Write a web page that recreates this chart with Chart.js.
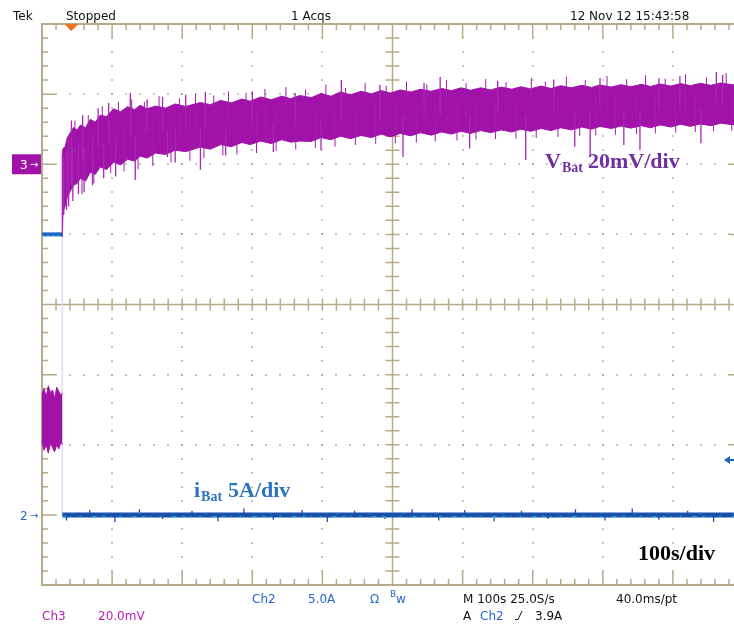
<!DOCTYPE html>
<html>
<head>
<meta charset="utf-8">
<script src="https://cdn.jsdelivr.net/npm/chart.js@4"></script>
<style>
html, body { margin: 0; padding: 0; background: #fff; overflow: hidden; }
#scope { display: block; }
</style>
</head>
<body>
<canvas id="scope" width="760" height="633"></canvas>
<script>
// x = time in s (100 s/div), VBat in mV (ch3, 20 mV/div, ref +2 div), iBat in A (ch2, 5 A/div, ref -3 div)
const envTime = [29, 30, 33, 36, 40, 45, 50, 55, 62, 69, 76, 83, 92, 102, 112, 122, 132, 140, 150, 162,
  176, 190, 205, 226, 240, 255, 270, 285, 297, 312, 327, 342, 355, 368, 384, 398, 412, 426, 440, 455,
  470, 484, 497, 511, 526, 540, 555, 570, 584, 598, 611, 626, 640, 655, 670, 683, 697, 712, 726, 740,
  755, 770, 784, 796, 812, 826, 840, 855, 868, 882, 897, 911, 925, 939, 954, 968, 988, 1000];
const vbatUpper = [3.0, 4.5, 5.0, 7.5, 8.9, 10.5, 9.8, 11.2, 10.4, 12.8, 12.0, 14.0, 13.6, 15.8, 15.0, 16.4, 15.6, 16.8, 15.8, 16.6,
  16.0, 17.2, 16.5, 17.6, 17.0, 18.2, 17.5, 18.6, 18.0, 19.2, 18.4, 19.4, 18.7, 19.6, 19.0, 20.2, 19.4, 20.6, 19.8, 20.8,
  20.1, 21.0, 20.3, 21.2, 20.6, 21.4, 20.8, 21.6, 21.0, 21.8, 21.1, 21.8, 21.2, 22.0, 21.4, 22.1, 21.5, 22.3, 21.6, 22.4,
  21.8, 22.5, 21.9, 22.6, 22.0, 22.7, 22.1, 22.8, 22.2, 22.9, 22.3, 23.0, 22.4, 23.1, 22.5, 23.2, 22.6, 23.0];
const vbatLower = [-20.7, -13.5, -12.0, -9.5, -7.8, -6.0, -5.5, -4.0, -4.8, -2.3, -2.9, -0.8, -1.5, 0.6, -0.2, 1.4, 0.9, 2.3, 1.8, 3.2,
  2.8, 4.0, 3.6, 4.9, 4.3, 5.6, 5.0, 6.2, 5.6, 6.6, 5.9, 7.0, 6.3, 6.6, 6.5, 7.6, 7.0, 8.0, 7.3, 8.2,
  7.6, 8.6, 7.8, 8.8, 8.1, 9.0, 8.3, 9.2, 8.6, 9.4, 8.8, 9.6, 9.0, 9.8, 9.2, 10.0, 9.4, 10.2, 9.6, 10.4,
  9.8, 10.6, 10.0, 10.8, 10.2, 10.9, 10.3, 11.0, 10.4, 11.2, 10.6, 11.4, 10.8, 11.5, 11.0, 11.7, 11.2, 11.5];

// large single noise spikes on VBat (mV)
const vSpikeTime = [29, 31, 35, 38, 42, 44, 52, 58, 60, 72, 80, 88, 95, 105, 126, 133, 150, 172, 179, 190, 205, 226, 233, 262,
  300, 330, 361, 398, 427, 482, 515, 545, 568, 610, 650, 690, 730, 760, 782, 796, 830, 853, 880, 910, 940, 962, 971];
const vSpikeLo = [-20.7, -14.5, -13, -12, -6, -10.5, -8.5, 2, -8, -6, 5, -4, 6, -3.5, 8, -4.5, 9, 9, 2.1, 0.5, 10, -1.6, 11, 2.5,
  12, 3.5, 12, 4, 13, 13, 2.1, 14, 14, 4.5, 15, 1.2, 15, 5, 2.1, 16, 5.5, 4.1, 16, 16, 6, 17, 17];
const vSpikeHi = [3, 2, 4, 7, 12.5, 5, 6, 14, 5, 8, 16, 6, 17.5, 8, 20.3, 8, 18.5, 19.2, 10, 10, 19.8, 10, 20.6, 11,
  20.8, 12, 20.3, 13, 24, 22.6, 14, 23.2, 24.9, 14, 23.8, 14, 24.2, 15, 15, 24.6, 15, 15, 24.5, 25.2, 16, 26.3, 25.5];

// smaller, denser noise spikes on VBat (mV)
const vNoiseTime = [47, 57, 66, 74, 86, 98, 109, 117, 128, 137, 146, 158, 167, 184, 196, 211, 219, 231, 245, 258, 266, 278, 291, 306,
  318, 334, 348, 362, 376, 390, 405, 418, 433, 447, 461, 476, 491, 504, 520, 534, 549, 561, 577, 592, 605, 619, 633, 647,
  662, 676, 698, 705, 718, 736, 748, 767, 775, 790, 806, 818, 834, 848, 861, 875, 889, 904, 918, 932, 948, 958, 976, 984, 995];
const vNoiseLo = [0, -8.5, 2, -5.5, 4, -2.5, 5, -2, 6, -1.5, 6, -0.5, 7, 0.5, 8, 1, 8, 1.8, 9, 2.5, 9, 2.8, 9.5, 3.2,
  10, 3.8, 10, 4.2, 10.5, 4.6, 11, 5, 11, 5.5, 11.5, 5.8, 12, 6, 12, 6.2, 12.5, 6.5, 12.5, 6.8, 13, 7, 13, 7.2,
  13, 7.3, 13.5, 7.5, 13.5, 7.8, 14, 8, 14, 8.2, 14, 8.4, 14.5, 8.6, 14.5, 8.8, 14.5, 9, 15, 9.2, 15, 9.4, 15, 9.6, 15];
const vNoiseHi = [12.5, 6, 14, 8, 16.5, 11, 17.8, 12, 18.5, 12, 17.8, 13, 19.4, 13.5, 18.8, 14, 20, 14.5, 19.6, 14.5, 20.8, 15, 20.4, 15,
  21.5, 15.5, 22, 16, 21.3, 16.5, 22.8, 16.5, 21.8, 17, 23.2, 17.5, 22.4, 17.5, 23.6, 18, 22.8, 18, 24, 18.5, 23.1, 18.5, 24.3, 18.5,
  23.4, 19, 24.6, 19, 23.6, 19, 25, 19.5, 24, 19.5, 25.2, 19.5, 24.3, 20, 25.4, 20, 24.4, 20, 25.6, 20.5, 24.8, 20.5, 26, 20.5, 24.9];

// pre-trigger part
const preTime = [0, 3, 6, 9, 12, 15, 18, 21, 24, 27, 29];
const preBlockHi = [8.6, 9.0, 8.4, 9.2, 8.7, 8.9, 8.3, 9.1, 8.8, 8.5, 8.7];   // A
const preBlockLo = [5.2, 4.6, 5.0, 4.4, 5.1, 4.8, 4.5, 5.0, 4.7, 5.2, 5.0];   // A
const preVbat = -20;  // mV

// iBat after trigger (A)
const ibatTime = [29, 1000];
const ibatLevel = [0, 0];
const iSpikeTime = [35, 68, 104, 139, 172, 214, 251, 288, 330, 371, 407, 446, 489, 528, 566, 603, 645, 684, 722, 761, 803, 842, 880, 921, 958, 990];
const iSpikeLo = [-0.4, 0, -0.5, 0, -0.3, 0, -0.45, 0, -0.35, 0, -0.5, 0, -0.3, 0, -0.4, 0, -0.45, 0, -0.3, 0, -0.4, 0, -0.35, 0, -0.5, 0];
const iSpikeHi = [0, 0.35, 0, 0.4, 0, 0.3, 0, 0.45, 0, 0.35, 0, 0.3, 0, 0.4, 0, 0.35, 0, 0.3, 0, 0.4, 0, 0.45, 0, 0.3, 0, 0.35];
const trigLevel = 3.9;  // A

const vDiv = mv => mv / 20 + 2;
const iDiv = a => a / 5 - 3;
const pts = (ts, vs, f) => ts.map((t, i) => ({ x: t, y: f(vs[i]) }));
const sticks = (ts, lo, hi, f) => ts.flatMap((t, i) => [{ x: t, y: f(lo[i]) }, { x: t, y: f(hi[i]) }, { x: t, y: null }]);

const MAG = '#a012a8';
const BLUE = '#1b4fae';
const CYAN = '#2cc6d8';

const graticule = {
  id: 'graticule',
  beforeDatasetsDraw(chart) {
    const { ctx, chartArea: a, scales: { x, y } } = chart;
    ctx.save();
    ctx.fillStyle = '#a49d80';
    for (let d = 1; d < 10; d++) {
      if (d === 5) continue;
      const px = Math.round(x.getPixelForValue(d * 100));
      for (let m = -20; m <= 20; m++) {
        ctx.fillRect(px - 0.75, Math.round(y.getPixelForValue(m / 5)) - 0.75, 1.5, 1.5);
      }
    }
    for (let d = -3; d <= 3; d++) {
      if (d === 0) continue;
      const py = Math.round(y.getPixelForValue(d));
      for (let m = 0; m <= 50; m++) {
        ctx.fillRect(Math.round(x.getPixelForValue(m * 20)) - 0.75, py - 0.75, 1.5, 1.5);
      }
    }
    ctx.strokeStyle = '#b5aa8a';
    ctx.lineWidth = 1.5;
    const cx = x.getPixelForValue(500), cy = y.getPixelForValue(0);
    ctx.beginPath();
    ctx.moveTo(cx, a.top); ctx.lineTo(cx, a.bottom);
    ctx.moveTo(a.left, cy); ctx.lineTo(a.right, cy);
    for (let m = 0; m <= 50; m++) {
      const px = x.getPixelForValue(m * 20);
      const len = m % 5 === 0 ? 14 : 6;
      ctx.moveTo(px, a.top); ctx.lineTo(px, a.top + len);
      ctx.moveTo(px, a.bottom); ctx.lineTo(px, a.bottom - len);
      ctx.moveTo(px, cy - 6); ctx.lineTo(px, cy + 6);
    }
    for (let m = -20; m <= 20; m++) {
      const py = y.getPixelForValue(m / 5);
      const len = m % 5 === 0 ? 14 : 6;
      ctx.moveTo(a.left, py); ctx.lineTo(a.left + len, py);
      ctx.moveTo(a.right, py); ctx.lineTo(a.right - len, py);
      ctx.moveTo(cx - 7, py); ctx.lineTo(cx + 7, py);
    }
    ctx.stroke();
    ctx.lineWidth = 2;
    ctx.strokeRect(a.left, a.top, a.right - a.left, a.bottom - a.top);
    ctx.restore();
  }
};

const labels = {
  id: 'labels',
  afterDraw(chart) {
    const { ctx, scales: { x, y } } = chart;
    ctx.save();
    ctx.textBaseline = 'alphabetic';
    ctx.font = '12px "DejaVu Sans"';
    ctx.fillStyle = '#111';
    ctx.fillText('Tek', 13, 20);
    ctx.fillText('Stopped', 66, 20);
    ctx.fillText('1 Acqs', 291, 20);
    ctx.fillText('12 Nov 12 15:43:58', 570, 20);
    ctx.fillText('M 100s 25.0S/s', 463, 603);
    ctx.fillText('40.0ms/pt', 616, 603);
    ctx.fillText('A', 463, 620);
    ctx.fillText('3.9A', 535, 620);
    ctx.strokeStyle = '#111';
    ctx.lineWidth = 1;
    ctx.beginPath();
    ctx.moveTo(515, 619.5); ctx.lineTo(518, 619.5); ctx.lineTo(522, 611);
    ctx.stroke();

    ctx.fillStyle = '#b41cb4';
    ctx.fillText('Ch3', 42, 620);
    ctx.fillText('20.0mV', 98, 620);
    ctx.fillStyle = '#2866cc';
    ctx.fillText('Ch2', 252, 603);
    ctx.fillText('5.0A', 308, 603);
    ctx.fillText('Ω', 370, 603);
    ctx.fillText('Ch2', 480, 620);
    ctx.font = '9px "DejaVu Sans"';
    ctx.fillText('B', 390, 597);
    ctx.font = '12px "DejaVu Sans"';
    ctx.fillText('w', 396, 603);

    // channel reference markers
    const y3 = y.getPixelForValue(2), y2 = y.getPixelForValue(-3);
    ctx.fillStyle = MAG;
    ctx.fillRect(12, y3 - 10, 29, 20);
    ctx.fillStyle = '#fff';
    ctx.fillText('3', 20, y3 + 5);
    ctx.font = '10px "DejaVu Sans"';
    ctx.fillText('→', 30, y3 + 4);
    ctx.fillStyle = '#2866cc';
    ctx.font = '12px "DejaVu Sans"';
    ctx.fillText('2', 20, y2 + 5);
    ctx.font = '10px "DejaVu Sans"';
    ctx.fillText('→', 30, y2 + 4);

    // trigger level arrow on the right edge
    const ty = Math.round(y.getPixelForValue(iDiv(trigLevel)));
    ctx.fillStyle = '#1f5fc4';
    ctx.beginPath();
    ctx.moveTo(724, ty); ctx.lineTo(730, ty - 4); ctx.lineTo(730, ty + 4);
    ctx.closePath();
    ctx.fill();
    ctx.fillRect(729, ty - 1, 6, 2);

    // trigger position marker
    ctx.fillStyle = '#f07020';
    const tx = x.getPixelForValue(42);
    ctx.beginPath();
    ctx.moveTo(tx - 7, 24); ctx.lineTo(tx + 7, 24); ctx.lineTo(tx, 31);
    ctx.closePath();
    ctx.fill();

    // annotations
    ctx.font = 'bold 22px "Liberation Serif"';
    ctx.fillStyle = '#7030a0';
    ctx.fillText('V', 545, 168);
    let w = ctx.measureText('V').width;
    ctx.font = 'bold 14px "Liberation Serif"';
    ctx.fillText('Bat', 546 + w, 172);
    ctx.font = 'bold 22px "Liberation Serif"';
    ctx.fillText('20mV/div', 588, 168);

    ctx.fillStyle = '#2b74c0';
    ctx.fillText('i', 194, 497);
    w = ctx.measureText('i').width;
    ctx.font = 'bold 14px "Liberation Serif"';
    ctx.fillText('Bat', 195 + w, 501);
    ctx.font = 'bold 22px "Liberation Serif"';
    ctx.fillText('5A/div', 228, 497);

    ctx.fillStyle = '#000';
    ctx.fillText('100s/div', 638, 560);
    ctx.restore();
  }
};

const line = (data, color, width, extra) => Object.assign({
  data, borderColor: color, borderWidth: width, pointRadius: 0, tension: 0, fill: false
}, extra || {});

new Chart(document.getElementById('scope'), {
  type: 'line',
  data: {
    datasets: [
      line(pts(envTime, vbatUpper, vDiv), MAG, 1, { order: 6 }),
      line(pts(envTime, vbatLower, vDiv), MAG, 1, { order: 6, fill: '-1', backgroundColor: MAG }),
      line(sticks(vSpikeTime, vSpikeLo, vSpikeHi, vDiv), '#a826b4', 1.3, { order: 5 }),
      line(sticks(vNoiseTime, vNoiseLo, vNoiseHi, vDiv), '#a21cae', 1, { order: 5 }),
      line(pts(preTime, preBlockHi, iDiv), MAG, 1, { order: 6 }),
      line(pts(preTime, preBlockLo, iDiv), MAG, 1, { order: 6, fill: '-1', backgroundColor: MAG }),
      line([{ x: 29, y: vDiv(preVbat) }, { x: 29, y: iDiv(0) }], '#e6daf2', 1.5, { order: 7 }),
      line([{ x: 0, y: vDiv(preVbat) }, { x: 29, y: vDiv(preVbat) }], '#1a66c2', 4, { order: 4 }),
      line(pts(ibatTime, ibatLevel, iDiv), BLUE, 5, { order: 3 }),
      line(sticks(iSpikeTime, iSpikeLo, iSpikeHi, iDiv), BLUE, 1.3, { order: 3 }),
      line(pts(ibatTime, [-0.15, -0.15], iDiv), CYAN, 1.5, { order: 2, borderDash: [3, 5, 1, 8, 2, 11, 4, 6] }),
      line(pts(ibatTime, [0.14, 0.14], iDiv), CYAN, 1, { order: 2, borderDash: [1, 9, 2, 13, 1, 7] }),
      line([{ x: 0, y: vDiv(preVbat - 0.4) }, { x: 29, y: vDiv(preVbat - 0.4) }], CYAN, 1, { order: 2, borderDash: [2, 3] })
    ]
  },
  options: {
    responsive: false,
    animation: false,
    devicePixelRatio: 1,
    layout: { padding: { left: 42, top: 24, right: 17, bottom: 48 } },
    scales: {
      x: { type: 'linear', min: 0, max: 1000, display: false },
      y: { min: -4, max: 4, display: false }
    },
    plugins: { legend: { display: false }, tooltip: { enabled: false } }
  },
  plugins: [graticule, labels]
});
</script>
</body>
</html>
